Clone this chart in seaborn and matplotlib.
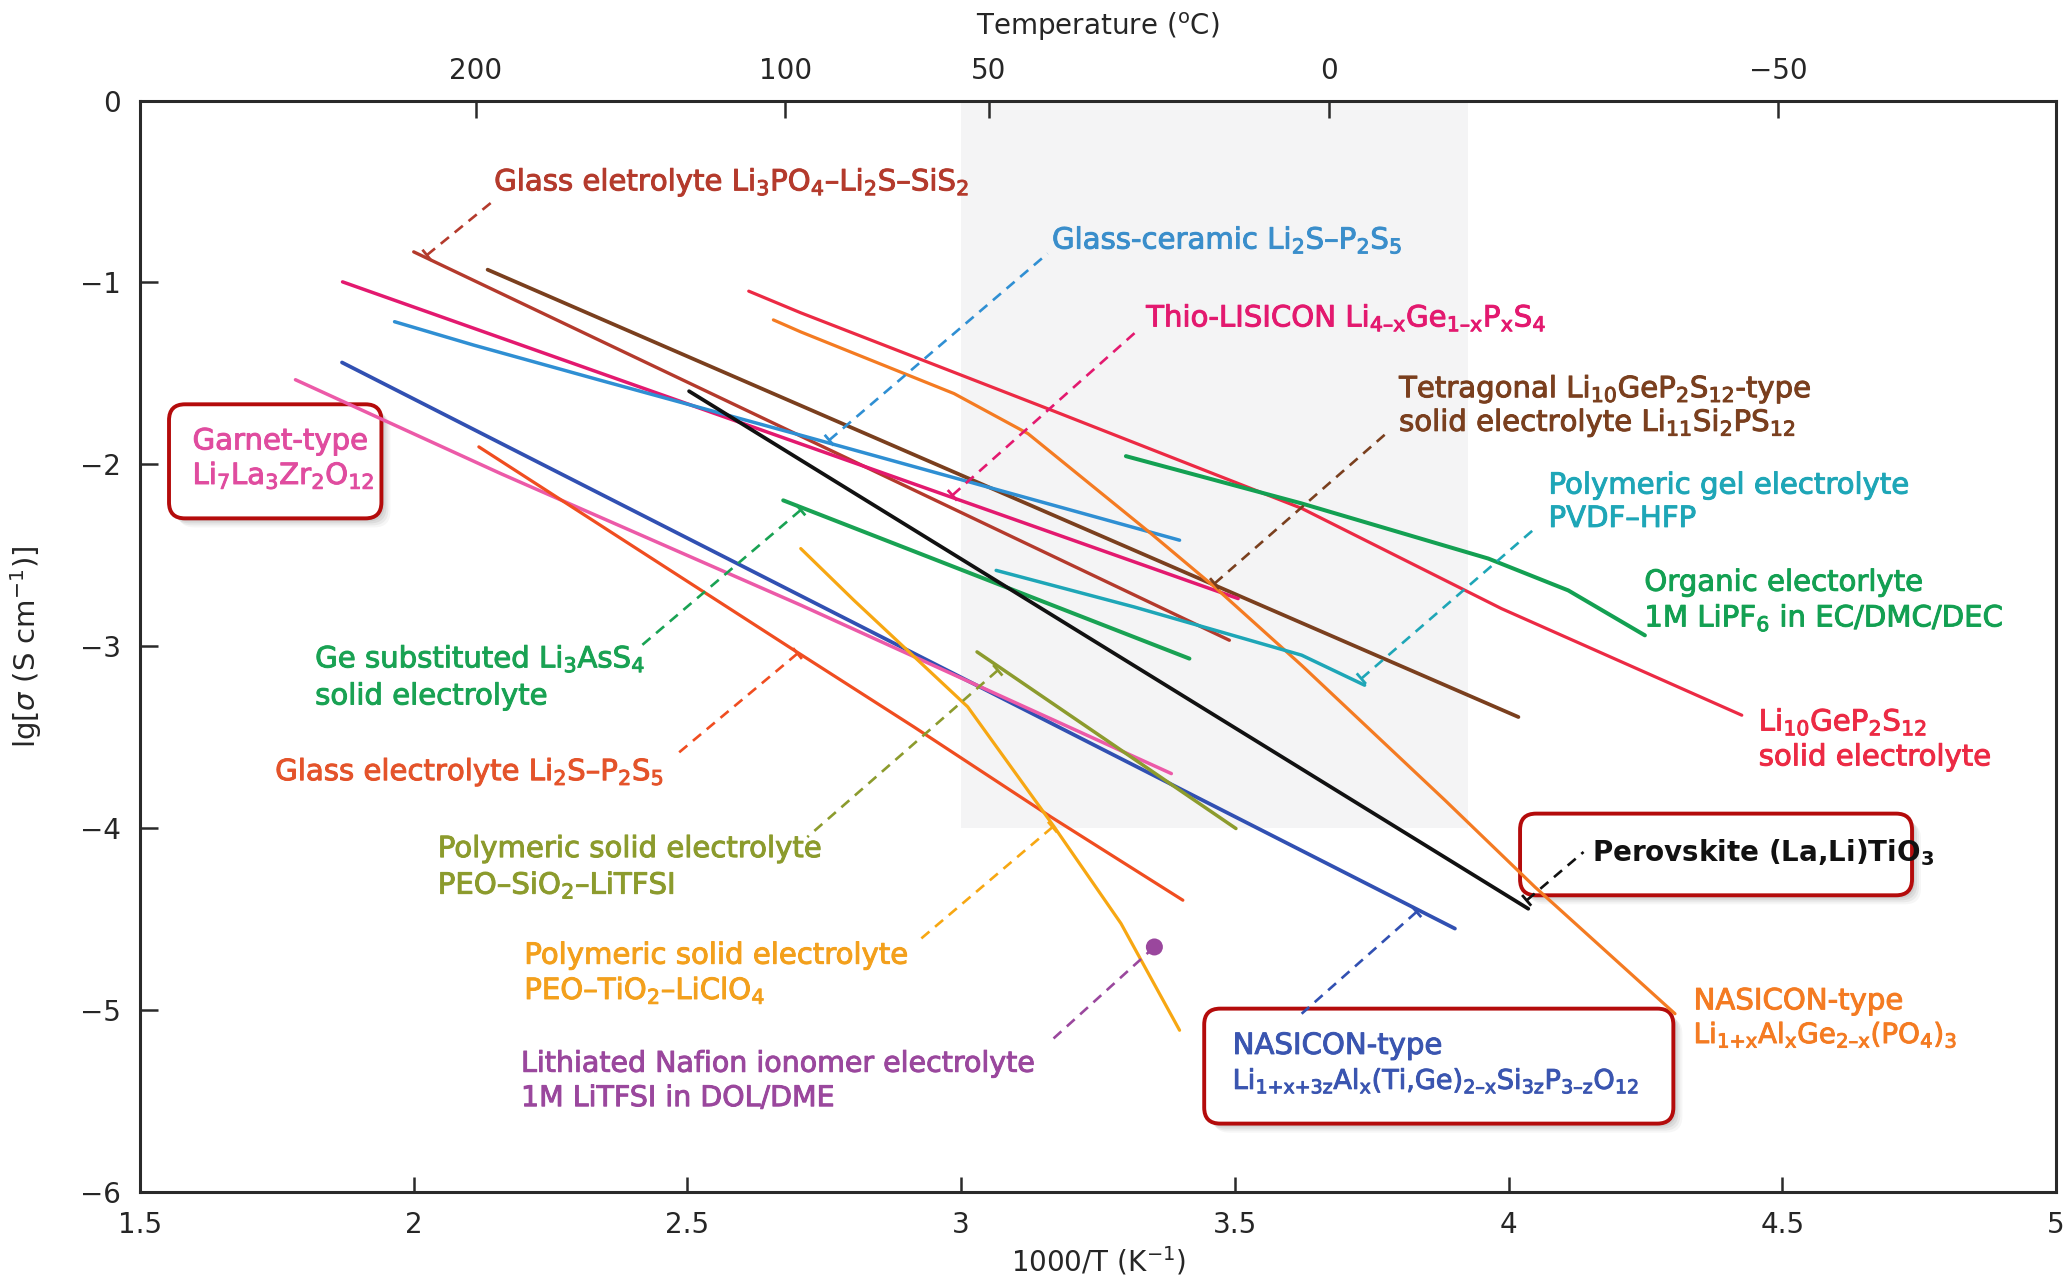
import numpy as np
import pandas as pd
import matplotlib
matplotlib.use("Agg")
import matplotlib.pyplot as plt
import matplotlib.patheffects as pe
import seaborn as sns
from matplotlib.patches import FancyBboxPatch

# ------------------------------------------------------------------ data
# x = 1000/T (K^-1), y = lg[sigma (S cm^-1)]
x_li3po4 = [2.000, 3.490]
y_li3po4 = [-0.832, -2.967]

x_tetragonal = [2.135, 4.018]
y_tetragonal = [-0.930, -3.389]

x_thio = [1.870, 3.506]
y_thio = [-0.997, -2.738]

x_glass_ceramic = [1.965, 2.110, 2.341, 2.707, 3.399]
y_glass_ceramic = [-1.216, -1.345, -1.538, -1.840, -2.417]

x_lgps = [2.612, 2.707, 3.158, 3.622, 3.987, 4.426]
y_lgps = [-1.048, -1.167, -1.694, -2.242, -2.793, -3.379]

x_nasicon_ge = [2.657, 2.707, 2.987, 3.122, 3.347, 3.463, 3.622, 3.884, 4.048, 4.304]
y_nasicon_ge = [-1.206, -1.272, -1.611, -1.831, -2.381, -2.674, -3.105, -3.847, -4.323, -5.020]

x_organic = [3.301, 3.622, 3.963, 4.109, 4.249]
y_organic = [-1.955, -2.215, -2.518, -2.693, -2.940]

x_pvdf = [3.064, 3.316, 3.622, 3.737]
y_pvdf = [-2.583, -2.784, -3.049, -3.214]

x_li3ass4 = [2.675, 3.417]
y_li3ass4 = [-2.198, -3.068]

x_perovskite = [2.503, 4.036]
y_perovskite = [-1.598, -4.443]

x_nasicon_ti = [1.869, 3.902]
y_nasicon_ti = [-1.440, -4.552]

x_garnet = [1.784, 2.159, 2.707, 3.384]
y_garnet = [-1.535, -2.051, -2.774, -3.700]

x_li2s_p2s5 = [2.119, 2.695, 2.914, 3.164, 3.405]
y_li2s_p2s5 = [-1.904, -3.022, -3.444, -3.938, -4.396]

x_peo_sio2 = [3.029, 3.502]
y_peo_sio2 = [-3.031, -4.002]

x_peo_tio2 = [2.707, 2.804, 3.012, 3.170, 3.292, 3.399]
y_peo_tio2 = [-2.463, -2.747, -3.333, -3.993, -4.524, -5.111]

x_nafion = [3.353]
y_nafion = [-4.653]

# axis ticks
bottom_ticks = [1.5, 2.0, 2.5, 3.0, 3.5, 4.0, 4.5, 5.0]
bottom_labels = ["1.5", "2", "2.5", "3", "3.5", "4", "4.5", "5"]
left_ticks = [0, -1, -2, -3, -4, -5, -6]
top_tick_pos = [2.1135, 2.679, 3.051, 3.672, 4.493]
top_tick_labels = ["200", "100", "50", "0", "\u221250"]

# shaded room-temperature window
shade_x = [3.0, 3.925]
shade_y = [-4.0, 0.0]

# ------------------------------------------------------------------ style
sns.set_style("white")
plt.rcParams["font.family"] = ["DejaVu Sans"]
plt.rcParams["mathtext.default"] = "regular"
plt.rcParams["mathtext.fontset"] = "dejavusans"

C_LI3PO4 = "#b43a2c"
C_BROWN = "#7a3f1e"
C_MAGENTA = "#e3196f"
C_LBLUE = "#2f8fd3"
C_RED = "#ec2a44"
C_ORANGE = "#f47b22"
C_GREEN_ORG = "#13a052"
C_TEAL = "#1ea6b7"
C_GREEN_GE = "#19a253"
C_BLACK = "#111111"
C_BLUE = "#3150b2"
C_PINK = "#ec5aa8"
C_ORRED = "#f04d20"
C_OLIVE = "#8c9b2d"
C_YELLOW = "#f7a712"
C_PURPLE = "#9a479d"
BOX_EDGE = "#b40b0b"

series = [
    ("Glass Li3PO4-Li2S-SiS2", x_li3po4, y_li3po4, C_LI3PO4, 2.4),
    ("Tetragonal Li11Si2PS12", x_tetragonal, y_tetragonal, C_BROWN, 2.7),
    ("Thio-LISICON", x_thio, y_thio, C_MAGENTA, 2.5),
    ("Glass-ceramic Li2S-P2S5", x_glass_ceramic, y_glass_ceramic, C_LBLUE, 2.5),
    ("Li10GeP2S12", x_lgps, y_lgps, C_RED, 2.3),
    ("NASICON LAGP", x_nasicon_ge, y_nasicon_ge, C_ORANGE, 2.3),
    ("Organic LiPF6", x_organic, y_organic, C_GREEN_ORG, 2.9),
    ("PVDF-HFP", x_pvdf, y_pvdf, C_TEAL, 2.5),
    ("Ge-Li3AsS4", x_li3ass4, y_li3ass4, C_GREEN_GE, 2.9),
    ("Perovskite", x_perovskite, y_perovskite, C_BLACK, 2.7),
    ("NASICON LATP", x_nasicon_ti, y_nasicon_ti, C_BLUE, 2.7),
    ("Garnet", x_garnet, y_garnet, C_PINK, 2.5),
    ("Glass Li2S-P2S5", x_li2s_p2s5, y_li2s_p2s5, C_ORRED, 2.3),
    ("PEO-SiO2-LiTFSI", x_peo_sio2, y_peo_sio2, C_OLIVE, 2.5),
    ("PEO-TiO2-LiClO4", x_peo_tio2, y_peo_tio2, C_YELLOW, 2.3),
]

df = pd.concat(
    [pd.DataFrame({"series": n, "inv_T": xs, "lg_sigma": ys}) for n, xs, ys, _, _ in series],
    ignore_index=True,
)

W, H, DPI = 2071, 1279, 100
fig = plt.figure(figsize=(W / DPI, H / DPI), dpi=DPI)
ax = fig.add_axes([140 / W, 1 - 1192 / H, (2056 - 140) / W, (1192 - 100.5) / H])
ax.set_xlim(1.5, 5.0)
ax.set_ylim(-6.0, 0.0)

ax.fill_between(shade_x, shade_y[0], shade_y[1], color="#f4f4f5", lw=0, zorder=0)

for name, xs, ys, col, lw in series:
    sub = df[df["series"] == name]
    sns.lineplot(data=sub, x="inv_T", y="lg_sigma", color=col, linewidth=lw,
                 sort=False, estimator=None, legend=False, ax=ax, zorder=3)

sns.scatterplot(x=x_nafion, y=y_nafion, color=C_PURPLE, s=150, edgecolor="none",
                legend=False, ax=ax, zorder=4)

# ------------------------------------------------------------------ callouts
callouts = [
    ((2.024, -0.850), (2.147, -0.548), C_LI3PO4),
    ((2.759, -1.867), (3.158, -0.841), C_LBLUE),
    ((2.984, -2.170), (3.326, -1.254), C_MAGENTA),
    ((3.463, -2.655), (3.783, -1.813), C_BROWN),
    ((3.731, -3.178), (4.048, -2.353), C_TEAL),
    ((2.707, -2.251), (2.417, -2.994), C_GREEN_GE),
    ((2.701, -3.040), (2.475, -3.608), C_ORRED),
    ((3.067, -3.132), (2.719, -4.049), C_OLIVE),
    ((3.167, -3.994), (2.923, -4.617), C_YELLOW),
    ((3.353, -4.653), (3.160, -5.180), C_PURPLE),
    ((4.033, -4.397), (4.137, -4.131), C_BLACK),
    ((3.832, -4.460), (3.622, -5.020), C_BLUE),
]
inv = ax.transData.inverted()
for (x0, y0), (x1, y1), col in callouts:
    ax.plot([x0, x1], [y0, y1], color=col, lw=1.9, linestyle=(0, (4, 2.8)), zorder=5)
    if col != C_PURPLE:
        p0 = ax.transData.transform((x0, y0))
        p1 = ax.transData.transform((x1, y1))
        d = (p1 - p0) / np.linalg.norm(p1 - p0)
        nrm = np.array([-d[1], d[0]])
        a = inv.transform(p0 + nrm * 7)
        b = inv.transform(p0 - nrm * 7)
        ax.plot([a[0], b[0]], [a[1], b[1]], color=col, lw=2.0, zorder=5,
                solid_capstyle="butt")

# ------------------------------------------------------------------ boxes
px_x = ax.transData.transform((1, 0))[0] - ax.transData.transform((0, 0))[0]
px_y = ax.transData.transform((0, 1))[1] - ax.transData.transform((0, 0))[1]
aspect = px_x / px_y


def rbox(x0, x1, y0, y1):
    r = 16 / px_x
    for off, al in [(9, 0.05), (7, 0.07), (5, 0.09), (3, 0.10)]:
        sh = FancyBboxPatch((x0 + off / px_x, y0 - off / px_y), x1 - x0, y1 - y0,
                            boxstyle=f"round,pad=0,rounding_size={r}",
                            mutation_aspect=aspect, fc="#555555", ec="none",
                            alpha=al, zorder=1)
        ax.add_patch(sh)
    bx = FancyBboxPatch((x0, y0), x1 - x0, y1 - y0,
                        boxstyle=f"round,pad=0,rounding_size={r}",
                        mutation_aspect=aspect, fc="white", ec=BOX_EDGE,
                        lw=2.8, zorder=2)
    ax.add_patch(bx)


rbox(1.553, 1.941, -2.297, -1.670)
rbox(4.021, 4.737, -4.369, -3.920)
rbox(3.444, 4.301, -5.624, -4.992)

# ------------------------------------------------------------------ labels
labels = [
    (2.147, -0.494, "Glass eletrolyte Li$_3$PO$_4$\u2013Li$_2$S\u2013SiS$_2$", C_LI3PO4, "normal", 21),
    (3.166, -0.814, "Glass-ceramic Li$_2$S\u2013P$_2$S$_5$", "#3a8ecb", "normal", 21),
    (3.338, -1.242, "Thio-LISICON Li$_{4\u2013x}$Ge$_{1\u2013x}$P$_x$S$_4$", C_MAGENTA, "normal", 21),
    (3.800, -1.631, "Tetragonal Li$_{10}$GeP$_2$S$_{12}$-type", C_BROWN, "normal", 21),
    (3.800, -1.816, "solid electrolyte Li$_{11}$Si$_2$PS$_{12}$", C_BROWN, "normal", 21),
    (4.073, -2.161, "Polymeric gel electrolyte", C_TEAL, "normal", 21),
    (4.073, -2.344, "PVDF\u2013HFP", C_TEAL, "normal", 21),
    (4.248, -2.695, "Organic electorlyte", C_GREEN_ORG, "normal", 21),
    (4.248, -2.891, "1M LiPF$_6$ in EC/DMC/DEC", C_GREEN_ORG, "normal", 21),
    (4.457, -3.463, "Li$_{10}$GeP$_2$S$_{12}$", C_RED, "normal", 21),
    (4.457, -3.655, "solid electrolyte", C_RED, "normal", 21),
    (1.820, -3.116, "Ge substituted Li$_3$AsS$_4$", C_GREEN_GE, "normal", 21),
    (1.820, -3.320, "solid electrolyte", C_GREEN_GE, "normal", 21),
    (1.747, -3.736, "Glass electrolyte Li$_2$S\u2013P$_2$S$_5$", "#e4532a", "normal", 21),
    (2.044, -4.159, "Polymeric solid electrolyte", C_OLIVE, "normal", 21),
    (2.044, -4.360, "PEO\u2013SiO$_2$\u2013LiTFSI", C_OLIVE, "normal", 21),
    (2.202, -4.745, "Polymeric solid electrolyte", "#f3a01c", "normal", 21),
    (2.202, -4.939, "PEO\u2013TiO$_2$\u2013LiClO$_4$", "#f3a01c", "normal", 21),
    (2.196, -5.339, "Lithiated Nafion ionomer electrolyte", C_PURPLE, "normal", 20.5),
    (2.196, -5.528, "1M LiTFSI in DOL/DME", C_PURPLE, "normal", 20.5),
    (4.152, -4.180, "Perovskite (La,Li)TiO$_3$", "#111111", "bold", 20),
    (3.496, -5.241, "NASICON-type", "#3a55b0", "normal", 21),
    (3.496, -5.433, "Li$_{1{+}x{+}3z}$Al$_x$(Ti,Ge)$_{2\u2013x}$Si$_{3z}$P$_{3\u2013z}$O$_{12}$", "#3a55b0", "normal", 19.5),
    (4.338, -4.996, "NASICON-type", C_ORANGE, "normal", 21),
    (4.338, -5.181, "Li$_{1{+}x}$Al$_x$Ge$_{2\u2013x}$(PO$_4$)$_3$", C_ORANGE, "normal", 20),
    (1.596, -1.918, "Garnet-type", "#e04c9f", "normal", 21),
    (1.596, -2.108, "Li$_7$La$_3$Zr$_2$O$_{12}$", "#e04c9f", "normal", 21),
]
for x, y, s, col, wt, fs in labels:
    t = ax.text(x, y, s, color=col, fontsize=fs, fontweight=wt,
                ha="left", va="baseline", zorder=6)
    if wt != "bold":
        t.set_path_effects([pe.withStroke(linewidth=0.7, foreground=col)])

# ------------------------------------------------------------------ axes
SPINE = "#2a2a2a"
for sp in ax.spines.values():
    sp.set_visible(True)
    sp.set_color(SPINE)
    sp.set_linewidth(2.2)
    sp.set_zorder(7)

ax.set_xticks(bottom_ticks)
ax.set_xticklabels(bottom_labels)
ax.set_yticks(left_ticks)
ax.tick_params(axis="x", direction="in", length=11, width=1.8, color=SPINE,
               labelsize=20, pad=14, top=False, bottom=True)
ax.tick_params(axis="y", direction="in", length=13, width=1.8, color=SPINE,
               labelsize=20, pad=14, left=True, right=False)

secax = ax.secondary_xaxis("top")
secax.set_xticks(top_tick_pos)
secax.set_xticklabels(top_tick_labels)
secax.tick_params(direction="in", length=13, width=1.8, color=SPINE, labelsize=20, pad=11)
secax.spines["top"].set_visible(False)
secax.set_xlabel("Temperature ($^{o}$C)", fontsize=20, labelpad=16)

ax.set_xlabel("1000/T (K$^{-1}$)", fontsize=20)
ax.xaxis.set_label_coords(0.5, -0.063)
ax.xaxis.label.set_va("center")
ax.set_ylabel("lg[$\\mathit{\\sigma}$ (S cm$^{-1}$)]", fontsize=21)
ax.yaxis.set_label_coords(-0.0595, 0.5)
ax.yaxis.label.set_va("center")

fig.savefig("out.png", dpi=DPI, facecolor="white")
